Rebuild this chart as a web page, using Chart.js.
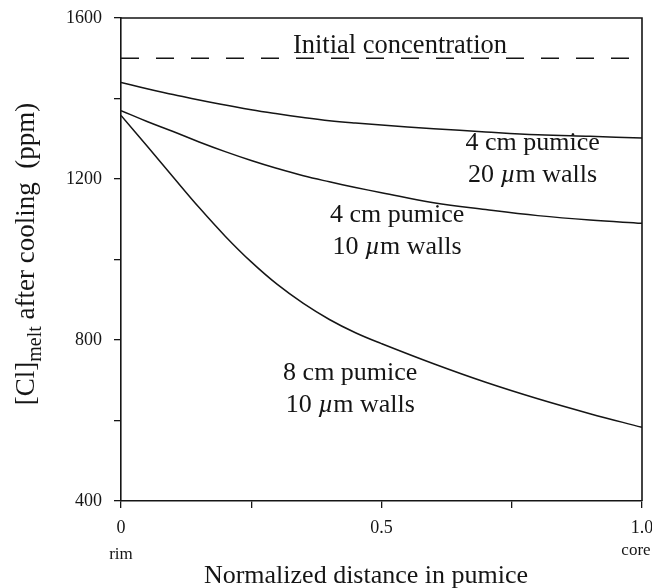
<!DOCTYPE html>
<html>
<head>
<meta charset="utf-8">
<script src="https://cdn.jsdelivr.net/npm/chart.js@4.4.1/dist/chart.umd.min.js"></script>
<style>
  html, body { margin: 0; padding: 0; background: #fff; }
  #wrap { width: 652px; height: 588px; position: relative; }
</style>
</head>
<body>
<div id="wrap"><canvas id="clChart"></canvas></div>
<script>
// normalized distance, rim (0) -> core (1)
const distance = [0, 0.05, 0.1, 0.15, 0.2, 0.25, 0.3, 0.35, 0.4, 0.45, 0.5, 0.6, 0.7, 0.8, 0.9, 1.0];

// [Cl] in melt after cooling (ppm)
const cl4cm20um = [1440, 1424, 1410, 1396, 1384, 1372, 1362, 1353, 1345, 1339, 1334, 1325, 1317, 1310, 1306, 1302];
const cl4cm10um = [1370, 1343, 1318, 1292, 1268, 1246, 1226, 1208, 1193, 1179, 1166, 1141, 1124, 1109, 1098, 1090];
const cl8cm10um = [1358, 1282, 1205, 1129, 1058, 994, 938, 891, 851, 818, 791, 741, 695, 654, 617, 583];
const initialCl = 1500;

const yTickLabels = { 400: '400', 800: '800', 1200: '1200', 1600: '1600' };
const xTickLabels = { 0: '0', 0.5: '0.5', 1: '1.0' };
const xEndLabels = ['rim', 'core'];

const curveNotes = [
  ['4 cm pumice', '20 µm walls'],
  ['4 cm pumice', '10 µm walls'],
  ['8 cm pumice', '10 µm walls'],
];
const initialNote = 'Initial concentration';
const xTitle = 'Normalized distance in pumice';

// where the notes sit, in data units
const noteAnchors = [
  { x: 0.79, y: 1272 },
  { x: 0.53, y: 1093 },
  { x: 0.44, y: 700 },
];
const initialAnchor = { x: 0.33, y: 1513 };

const SERIF = '"Liberation Serif", "DejaVu Serif", serif';
const INK = '#151515';

function toPoints(values) {
  return distance.map((d, i) => ({ x: d, y: values[i] }));
}

/**
 * draw text runs one after another, centred on x (or left aligned)
 * runs: [{ t, size, italic, dy }]
 */
function drawRuns(ctx, runs, x, y, align) {
  const widths = runs.map(r => {
    ctx.font = (r.italic ? 'italic ' : '') + r.size + 'px ' + SERIF;
    return ctx.measureText(r.t).width;
  });
  const total = widths.reduce((a, b) => a + b, 0);
  let cx = align === 'left' ? x : x - total / 2;
  runs.forEach((r, i) => {
    ctx.font = (r.italic ? 'italic ' : '') + r.size + 'px ' + SERIF;
    ctx.fillText(r.t, cx, y + (r.dy || 0));
    cx += widths[i];
  });
}

// "20 µm walls" -> µ in italic
function muRuns(text, size) {
  const parts = text.split('µ');
  if (parts.length < 2) return [{ t: text, size }];
  return [{ t: parts[0], size }, { t: 'µ', size, italic: true }, { t: parts[1], size }];
}

const decorPlugin = {
  id: 'decor',
  afterDraw(chart) {
    const { ctx, chartArea: a, scales: { x, y } } = chart;
    ctx.save();

    // closing frame on top and right
    ctx.strokeStyle = INK;
    ctx.lineWidth = 1.6;
    ctx.beginPath();
    ctx.moveTo(a.left, a.top);
    ctx.lineTo(a.right, a.top);
    ctx.lineTo(a.right, a.bottom);
    ctx.stroke();

    ctx.fillStyle = INK;
    ctx.textBaseline = 'alphabetic';

    // curve notes
    curveNotes.forEach((lines, i) => {
      const px = x.getPixelForValue(noteAnchors[i].x);
      const py = y.getPixelForValue(noteAnchors[i].y);
      lines.forEach((line, j) => drawRuns(ctx, muRuns(line, 26), px, py + j * 32));
    });

    drawRuns(ctx, [{ t: initialNote, size: 26.5 }],
      x.getPixelForValue(initialAnchor.x), y.getPixelForValue(initialAnchor.y), 'left');

    // rim / core under the end ticks
    ctx.font = '17px ' + SERIF;
    ctx.textAlign = 'center';
    ctx.fillText(xEndLabels[0], x.getPixelForValue(0), 559);
    ctx.fillText(xEndLabels[1], x.getPixelForValue(1) - 6, 555);
    ctx.textAlign = 'left';

    // axis titles
    drawRuns(ctx, [{ t: xTitle, size: 26 }], 366, 583);

    const yRuns = [
      { t: '[Cl]', size: 27 },
      { t: 'melt', size: 20, dy: 7 },
      { t: ' after cooling  (ppm)', size: 27 },
    ];
    ctx.translate(34, 254);
    ctx.rotate(-Math.PI / 2);
    drawRuns(ctx, yRuns, 0, 0);

    ctx.restore();
  }
};

const lineStyle = {
  borderColor: INK,
  borderWidth: 1.5,
  pointRadius: 0,
  fill: false,
  tension: 0.4,
};

new Chart(document.getElementById('clChart'), {
  type: 'line',
  data: {
    datasets: [
      { ...lineStyle, label: curveNotes[0].join(' '), data: toPoints(cl4cm20um) },
      { ...lineStyle, label: curveNotes[1].join(' '), data: toPoints(cl4cm10um) },
      { ...lineStyle, label: curveNotes[2].join(' '), data: toPoints(cl8cm10um) },
      {
        ...lineStyle,
        label: initialNote,
        tension: 0,
        borderWidth: 1.4,
        borderDash: [18, 17],
        data: [{ x: 0, y: initialCl }, { x: 1, y: initialCl }],
      },
    ]
  },
  options: {
    animation: false,
    responsive: true,
    maintainAspectRatio: false,
    layout: { padding: { top: 18, right: 10, left: 0, bottom: 0 } },
    plugins: {
      legend: { display: false },
      tooltip: { enabled: false },
    },
    scales: {
      x: {
        type: 'linear',
        min: 0,
        max: 1,
        afterFit(s) { s.height = 87; s.paddingLeft = 0; s.paddingRight = 0; },
        ticks: {
          stepSize: 0.25,
          autoSkip: false,
          maxRotation: 0,
          padding: 9,
          color: INK,
          font: { family: SERIF, size: 18 },
          callback: v => xTickLabels[v] ?? '',
        },
        grid: { drawOnChartArea: false, drawTicks: true, tickLength: 7, color: INK, lineWidth: 1.3 },
        border: { color: INK, width: 1.6 },
      },
      y: {
        min: 400,
        max: 1600,
        afterFit(s) { s.width = 121; s.paddingTop = 0; s.paddingBottom = 0; },
        ticks: {
          stepSize: 200,
          autoSkip: false,
          padding: 12,
          color: INK,
          font: { family: SERIF, size: 18 },
          callback: v => yTickLabels[v] ?? '',
        },
        grid: { drawOnChartArea: false, drawTicks: true, tickLength: 7, color: INK, lineWidth: 1.3 },
        border: { color: INK, width: 1.6 },
      }
    }
  },
  plugins: [decorPlugin]
});
</script>
</body>
</html>
